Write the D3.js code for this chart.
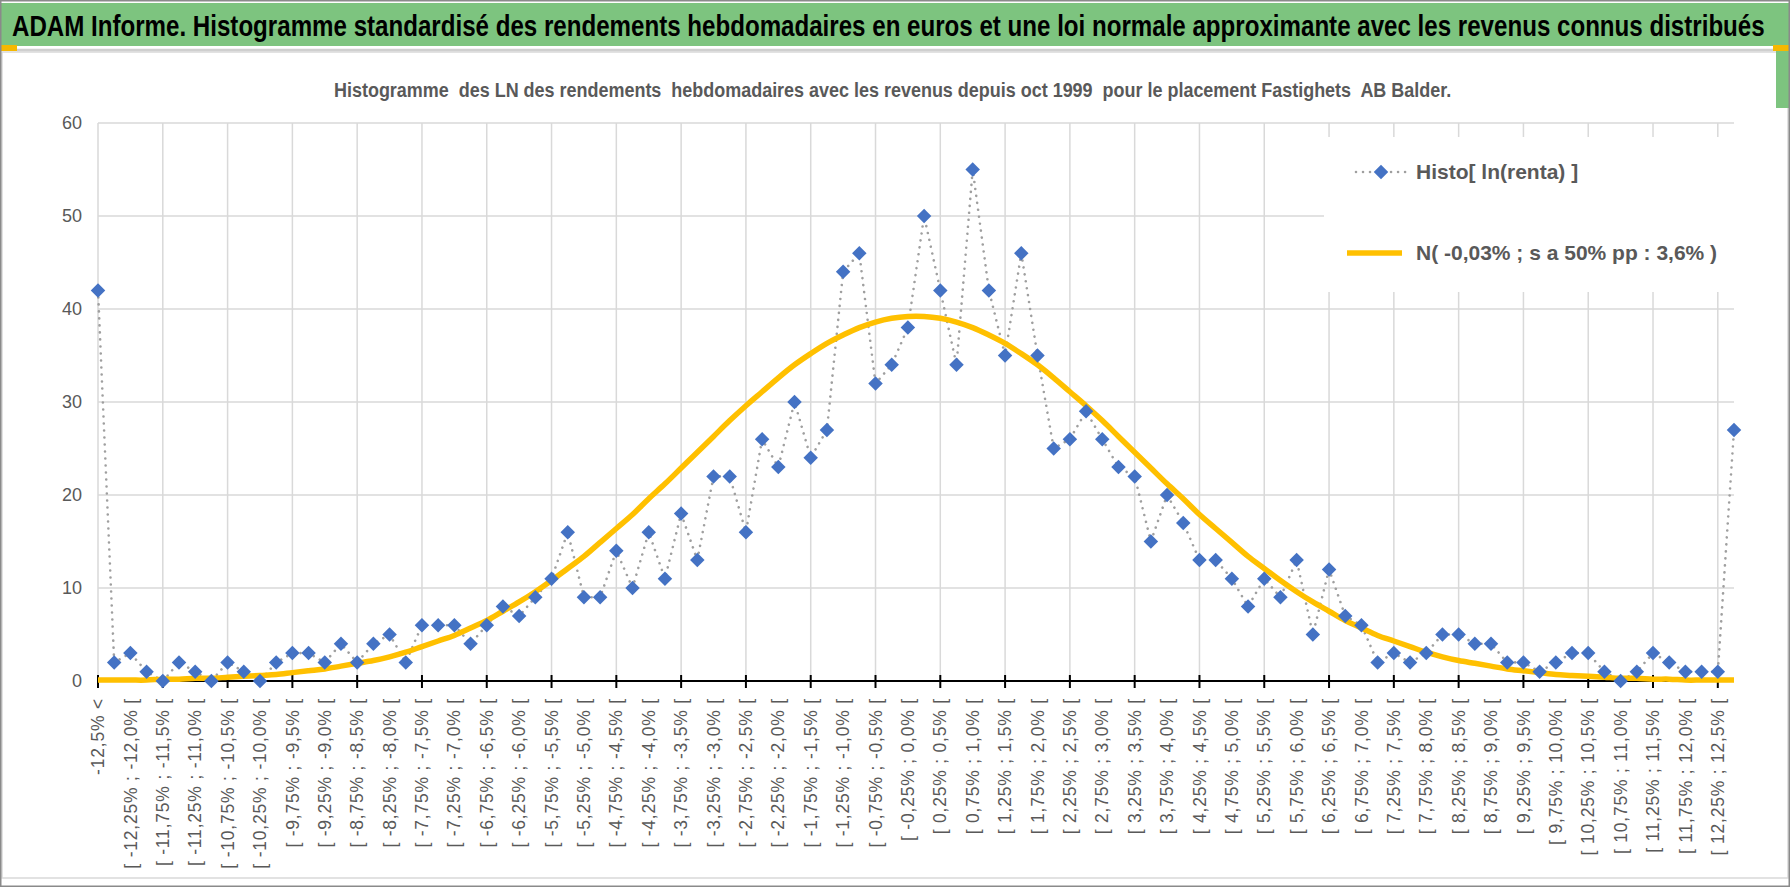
<!DOCTYPE html>
<html><head><meta charset="utf-8">
<script src="https://cdn.jsdelivr.net/npm/d3@7"></script>
<style>body{margin:0;background:#fff}svg{display:block}text{font-family:"Liberation Sans",Arial,sans-serif}</style>
</head><body><svg id="c" width="1790" height="887"></svg>
<script>
const categories = [
"-12,5% <",
"[ -12,5% ; -12,25% [","[ -12,25% ; -12,0% [","[ -12,0% ; -11,75% [","[ -11,75% ; -11,5% [",
"[ -11,5% ; -11,25% [","[ -11,25% ; -11,0% [","[ -11,0% ; -10,75% [","[ -10,75% ; -10,5% [",
"[ -10,5% ; -10,25% [","[ -10,25% ; -10,0% [","[ -10,0% ; -9,75% [","[ -9,75% ; -9,5% [",
"[ -9,5% ; -9,25% [","[ -9,25% ; -9,0% [","[ -9,0% ; -8,75% [","[ -8,75% ; -8,5% [",
"[ -8,5% ; -8,25% [","[ -8,25% ; -8,0% [","[ -8,0% ; -7,75% [","[ -7,75% ; -7,5% [",
"[ -7,5% ; -7,25% [","[ -7,25% ; -7,0% [","[ -7,0% ; -6,75% [","[ -6,75% ; -6,5% [",
"[ -6,5% ; -6,25% [","[ -6,25% ; -6,0% [","[ -6,0% ; -5,75% [","[ -5,75% ; -5,5% [",
"[ -5,5% ; -5,25% [","[ -5,25% ; -5,0% [","[ -5,0% ; -4,75% [","[ -4,75% ; -4,5% [",
"[ -4,5% ; -4,25% [","[ -4,25% ; -4,0% [","[ -4,0% ; -3,75% [","[ -3,75% ; -3,5% [",
"[ -3,5% ; -3,25% [","[ -3,25% ; -3,0% [","[ -3,0% ; -2,75% [","[ -2,75% ; -2,5% [",
"[ -2,5% ; -2,25% [","[ -2,25% ; -2,0% [","[ -2,0% ; -1,75% [","[ -1,75% ; -1,5% [",
"[ -1,5% ; -1,25% [","[ -1,25% ; -1,0% [","[ -1,0% ; -0,75% [","[ -0,75% ; -0,5% [",
"[ -0,5% ; -0,25% [","[ -0,25% ; 0,0% [",
"[ 0,0% ; 0,25% [","[ 0,25% ; 0,5% [","[ 0,5% ; 0,75% [","[ 0,75% ; 1,0% [",
"[ 1,0% ; 1,25% [","[ 1,25% ; 1,5% [","[ 1,5% ; 1,75% [","[ 1,75% ; 2,0% [",
"[ 2,0% ; 2,25% [","[ 2,25% ; 2,5% [","[ 2,5% ; 2,75% [","[ 2,75% ; 3,0% [",
"[ 3,0% ; 3,25% [","[ 3,25% ; 3,5% [","[ 3,5% ; 3,75% [","[ 3,75% ; 4,0% [",
"[ 4,0% ; 4,25% [","[ 4,25% ; 4,5% [","[ 4,5% ; 4,75% [","[ 4,75% ; 5,0% [",
"[ 5,0% ; 5,25% [","[ 5,25% ; 5,5% [","[ 5,5% ; 5,75% [","[ 5,75% ; 6,0% [",
"[ 6,0% ; 6,25% [","[ 6,25% ; 6,5% [","[ 6,5% ; 6,75% [","[ 6,75% ; 7,0% [",
"[ 7,0% ; 7,25% [","[ 7,25% ; 7,5% [","[ 7,5% ; 7,75% [","[ 7,75% ; 8,0% [",
"[ 8,0% ; 8,25% [","[ 8,25% ; 8,5% [","[ 8,5% ; 8,75% [","[ 8,75% ; 9,0% [",
"[ 9,0% ; 9,25% [","[ 9,25% ; 9,5% [","[ 9,5% ; 9,75% [","[ 9,75% ; 10,0% [",
"[ 10,0% ; 10,25% [","[ 10,25% ; 10,5% [","[ 10,5% ; 10,75% [","[ 10,75% ; 11,0% [",
"[ 11,0% ; 11,25% [","[ 11,25% ; 11,5% [","[ 11,5% ; 11,75% [","[ 11,75% ; 12,0% [",
"[ 12,0% ; 12,25% [","[ 12,25% ; 12,5% [",
"12,5% >"
];
const histoValues = [42,2,3,1,0,2,1,0,2,1,0,2,3,3,2,4,2,4,5,2,6,6,6,4,6,8,7,9,11,16,9,9,14,10,16,11,18,13,22,22,16,26,23,30,24,27,44,46,32,34,38,50,42,34,55,42,35,46,35,25,26,29,26,23,22,15,20,17,13,13,11,8,11,9,13,5,12,7,6,2,3,2,3,5,5,4,4,2,2,1,2,3,3,1,0,1,3,2,1,1,1,27];
const normalValues = [0.1,0.1,0.1,0.1,0.2,0.2,0.3,0.3,0.4,0.5,0.6,0.7,0.9,1.1,1.3,1.6,1.9,2.2,2.6,3.1,3.7,4.3,4.9,5.7,6.5,7.5,8.5,9.6,10.8,12.1,13.4,14.9,16.4,17.9,19.6,21.2,22.9,24.6,26.3,28.0,29.6,31.1,32.6,34.0,35.2,36.3,37.2,38.0,38.6,39.0,39.2,
39.2,39.0,38.6,38.0,37.2,36.3,35.2,34.0,32.6,31.1,29.6,28.0,26.3,24.6,22.9,21.2,19.6,17.9,16.4,14.9,13.4,12.1,10.8,9.6,8.5,7.5,6.5,5.7,4.9,4.3,3.7,3.1,2.6,2.2,1.9,1.6,1.3,1.1,0.9,0.7,0.6,0.5,0.4,0.3,0.3,0.2,0.2,0.1,0.1,0.1,0.1];
const yTicks = [0,10,20,30,40,50,60];
const titleText = "ADAM Informe. Histogramme standardisé des rendements hebdomadaires en euros et une loi normale approximante avec les revenus connus distribués";
const subtitleText = "Histogramme  des LN des rendements  hebdomadaires avec les revenus depuis oct 1999  pour le placement Fastighets  AB Balder.";
const legendLabels = ["Histo[ ln(renta) ]", "N( -0,03% ; s a 50% pp : 3,6% )"];

const svg = d3.select("#c");
const W = 1790, H = 887;
const m = {left: 98, right: 1734, top: 123, bottom: 681};
const x = d3.scalePoint().domain(categories).range([m.left, m.right]);
const y = d3.scaleLinear().domain([0, 60]).range([m.bottom, m.top]);
const GREEN = "#7dc47f", GOLD = "#ffc000", BLUE = "#4472c4", GREY_TXT = "#595959";

// frame & title band
svg.append("rect").attr("x", 0).attr("y", 0).attr("width", W).attr("height", H).attr("fill", "#fff");
svg.append("rect").attr("x", 2).attr("y", 52).attr("width", W - 4).attr("height", 826).attr("fill", "none").attr("stroke", "#d9d9d9").attr("stroke-width", 1.5);
svg.append("rect").attr("x", 0).attr("y", 3).attr("width", W).attr("height", 43).attr("fill", GREEN);
svg.append("rect").attr("x", 1776).attr("y", 46).attr("width", 14).attr("height", 62).attr("fill", GREEN);
svg.append("line").attr("x1", 17).attr("x2", 1773).attr("y1", 50).attr("y2", 50).attr("stroke", "#cfcfcf").attr("stroke-width", 2.5);
svg.append("rect").attr("x", 0).attr("y", 45).attr("width", 17).attr("height", 6).attr("fill", "#f5b800");
svg.append("rect").attr("x", 1773).attr("y", 45).attr("width", 17).attr("height", 6).attr("fill", "#f5b800");
svg.append("rect").attr("x", 0.75).attr("y", 0.75).attr("width", W - 1.5).attr("height", H - 1.5).attr("fill", "none").attr("stroke", "#8a8a8a").attr("stroke-width", 1.5);

// condensed titles: scale horizontally to the reference width
function fitText(tx, ty, size, color, str, targetW) {
  const gg = svg.append("g");
  const t = gg.append("text").attr("font-size", size).attr("font-weight", "bold").attr("fill", color)
    .style("white-space", "pre").text(str);
  const w = t.node().getComputedTextLength();
  gg.attr("transform", `translate(${tx},${ty}) scale(${targetW / w},1)`);
}
fitText(12, 36, 29, "#000", titleText, 1754);
fitText(334, 97, 21, GREY_TXT, subtitleText, 1118);

// gridlines
const g = svg.append("g");
g.selectAll("line.h").data(yTicks.filter(t => t > 0)).join("line")
  .attr("x1", m.left).attr("x2", m.right).attr("y1", d => y(d)).attr("y2", d => y(d))
  .attr("stroke", "#d9d9d9").attr("stroke-width", 1.5);
const gridCats = categories.filter((c, i) => i % 4 === 0);
g.selectAll("line.v").data(gridCats).join("line")
  .attr("x1", d => x(d)).attr("x2", d => x(d)).attr("y1", m.top).attr("y2", m.bottom)
  .attr("stroke", "#d9d9d9").attr("stroke-width", 1.5);

// y labels
svg.append("g").selectAll("text").data(yTicks).join("text")
  .attr("x", 82).attr("y", d => y(d)).attr("dy", "0.35em").attr("text-anchor", "end")
  .attr("font-size", 18).attr("fill", GREY_TXT).text(d => d);

// x axis
svg.append("line").attr("x1", m.left).attr("x2", m.right).attr("y1", y(0)).attr("y2", y(0)).attr("stroke", "#000").attr("stroke-width", 2);
svg.append("g").selectAll("line").data(gridCats).join("line")
  .attr("x1", d => x(d)).attr("x2", d => x(d)).attr("y1", y(0) - 6).attr("y2", y(0) + 7)
  .attr("stroke", "#000").attr("stroke-width", 2);
svg.append("g").selectAll("text").data(categories.filter((c, i) => i % 2 === 0 && i <= 100)).join("text")
  .attr("transform", d => `translate(${x(d)},${y(0) + 17}) rotate(-90)`)
  .attr("dy", "0.35em").attr("text-anchor", "end").attr("font-size", 17.5).attr("letter-spacing", "0.8px")
  .attr("fill", GREY_TXT).style("white-space", "pre").text(d => d);

// series
const idx = d3.range(categories.length);
const lineH = d3.line().x(i => x(categories[i])).y(i => y(histoValues[i]));
svg.append("path").attr("d", lineH(idx)).attr("fill", "none").attr("stroke", "#9f9f9f")
  .attr("stroke-width", 2.6).attr("stroke-dasharray", "0.01 7").attr("stroke-linecap", "round");
const lineN = d3.line().x(i => x(categories[i])).y(i => y(normalValues[i])).curve(d3.curveCatmullRom.alpha(0.5));
svg.append("path").attr("d", lineN(idx)).attr("fill", "none").attr("stroke", GOLD).attr("stroke-width", 5.5).attr("stroke-linejoin", "round");
const diamond = d3.symbol(d3.symbolSquare, 105);
svg.append("g").selectAll("path").data(idx).join("path")
  .attr("d", diamond).attr("fill", BLUE)
  .attr("transform", i => `translate(${x(categories[i])},${y(histoValues[i])}) rotate(45)`);

// legend
const lg = svg.append("g");
lg.append("rect").attr("x", 1324).attr("y", 137).attr("width", 411).attr("height", 155).attr("fill", "#fff");
lg.append("line").attr("x1", 1356).attr("x2", 1406).attr("y1", 172).attr("y2", 172).attr("stroke", "#9f9f9f")
  .attr("stroke-width", 2.6).attr("stroke-dasharray", "0.01 7").attr("stroke-linecap", "round");
lg.append("path").attr("d", diamond).attr("fill", BLUE).attr("transform", "translate(1381,172) rotate(45)");
lg.append("line").attr("x1", 1347).attr("x2", 1402).attr("y1", 253).attr("y2", 253).attr("stroke", GOLD).attr("stroke-width", 5.5);
lg.selectAll("text").data(legendLabels).join("text")
  .attr("x", 1416).attr("y", (d, i) => i === 0 ? 172 : 253).attr("dy", "0.35em")
  .attr("font-size", 21).attr("font-weight", "bold").attr("fill", GREY_TXT).text(d => d);
</script></body></html>
